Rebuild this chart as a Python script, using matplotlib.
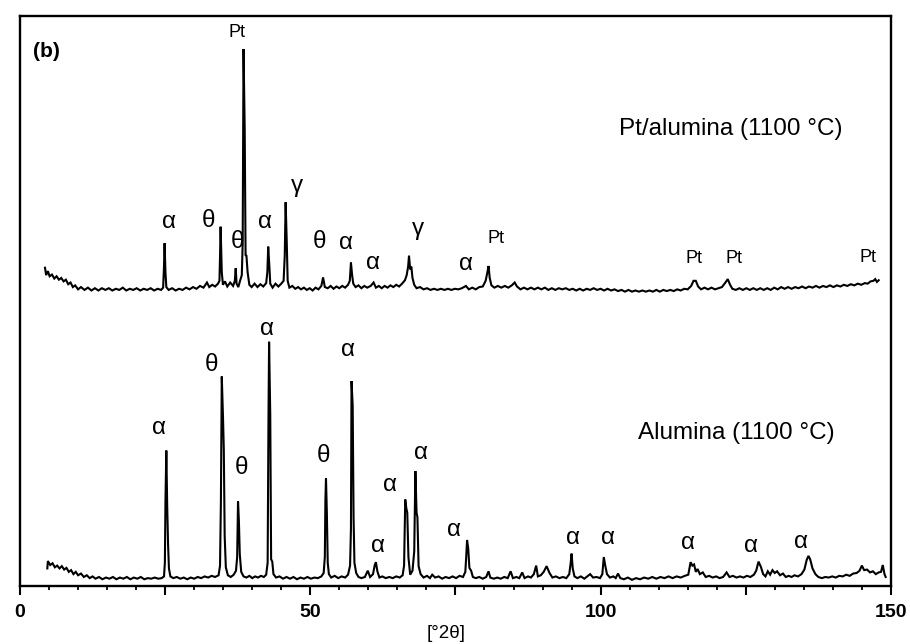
import numpy as np
import matplotlib.pyplot as plt
import matplotlib as mpl
from matplotlib.ticker import MultipleLocator, FuncFormatter

mpl.rcParams.update({
    "font.family": ["Liberation Sans", "DejaVu Sans"],
    "figure.facecolor": "white",
})

# Diffractogram traces, (2theta, intensity in arbitrary units; 0-100 = frame height)
alumina_pts = [
    (4.7, 3.0), (4.8, 4.3), (5.2, 3.6), (5.6, 3.9), (6.0, 3.2), (6.4, 3.5), (6.8, 3.0),
    (7.2, 3.4), (7.6, 2.8), (8.0, 3.1), (8.4, 2.4), (8.8, 2.7), (9.2, 2.0), (9.6, 2.4),
    (10.0, 1.8), (10.5, 2.1), (11.0, 1.5), (11.5, 1.8), (12.0, 1.3), (12.5, 1.6), (13.0, 1.2),
    (13.6, 1.5), (14.2, 1.1), (14.8, 1.4), (15.4, 1.2), (16.0, 1.5), (16.6, 1.1), (17.2, 1.4),
    (17.8, 1.2), (18.4, 1.5), (19.0, 1.1), (19.6, 1.4), (20.2, 1.2), (20.8, 1.5), (21.4, 1.1),
    (22.0, 1.3), (22.6, 1.2), (23.2, 1.4), (23.8, 1.2), (24.4, 1.3), (24.8, 1.6),
    (24.95, 4.0), (25.05, 14.8), (25.2, 23.7), (25.35, 14.0), (25.5, 7.2), (25.65, 3.0), (25.9, 1.6),
    (26.4, 1.3), (27.0, 1.5), (27.6, 1.2), (28.2, 1.4), (28.8, 1.1), (29.4, 1.4), (30.0, 1.2),
    (30.6, 1.5), (31.2, 1.3), (31.8, 1.6), (32.4, 1.4), (33.0, 1.7), (33.6, 1.5), (34.2, 1.8),
    (34.45, 3.5), (34.6, 14.8), (34.75, 36.7), (34.95, 30.0), (35.1, 23.9), (35.25, 8.7),
    (35.45, 3.2), (35.8, 1.8), (36.3, 1.5), (36.8, 1.9), (37.2, 2.6),
    (37.4, 5.0), (37.55, 14.8), (37.7, 11.3), (37.85, 5.5), (38.1, 2.4), (38.5, 1.6), (39.0, 1.4),
    (39.5, 1.7), (40.0, 1.3), (40.5, 1.6), (41.0, 1.4), (41.5, 1.7), (42.0, 1.5), (42.4, 1.9),
    (42.65, 4.0), (42.8, 30.0), (42.9, 42.8), (43.1, 30.0), (43.25, 4.6), (43.45, 4.2), (43.65, 2.0),
    (44.1, 1.4), (44.7, 1.6), (45.3, 1.2), (45.9, 1.5), (46.5, 1.2), (47.1, 1.5), (47.7, 1.1),
    (48.3, 1.4), (48.9, 1.2), (49.5, 1.5), (50.1, 1.2), (50.7, 1.4), (51.3, 1.3), (51.9, 1.6),
    (52.3, 2.2), (52.5, 5.0), (52.6, 15.0), (52.7, 18.8), (52.85, 12.8), (53.0, 4.0), (53.2, 2.0),
    (53.6, 1.4), (54.2, 1.7), (54.8, 1.3), (55.4, 1.6), (56.0, 1.4), (56.5, 1.9),
    (56.85, 3.5), (57.0, 10.0), (57.1, 35.9), (57.3, 31.5), (57.45, 12.0), (57.6, 4.0), (57.9, 2.2),
    (58.3, 1.5), (58.8, 1.3), (59.4, 1.5), (59.9, 2.6), (60.3, 1.5), (60.8, 2.0), (61.1, 3.6),
    (61.3, 4.1), (61.55, 2.5), (61.9, 1.4), (62.4, 1.6), (63.0, 1.3), (63.6, 1.5), (64.2, 1.3),
    (64.8, 1.6), (65.4, 1.4), (65.9, 1.8),
    (66.15, 3.5), (66.35, 15.1), (66.55, 13.5), (66.7, 12.8), (66.9, 5.0), (67.2, 1.9), (67.6, 2.6),
    (67.9, 6.0), (68.1, 20.1), (68.3, 12.8), (68.45, 12.0), (68.65, 3.4), (69.0, 2.0), (69.5, 1.4),
    (70.1, 1.7), (70.6, 1.3), (71.0, 1.9), (71.5, 1.4), (72.1, 1.6), (72.7, 1.2), (73.3, 1.5),
    (73.9, 1.3), (74.5, 1.6), (75.1, 1.3), (75.7, 1.7), (76.3, 1.5), (76.7, 2.4),
    (76.85, 5.0), (77.0, 8.0), (77.2, 6.5), (77.4, 3.1), (77.7, 2.6), (78.0, 1.5), (78.5, 1.3),
    (79.1, 1.5), (79.7, 1.2), (80.3, 1.5), (80.7, 2.5), (81.0, 1.4), (81.6, 1.2), (82.2, 1.4),
    (82.8, 1.2), (83.4, 1.5), (84.0, 1.3), (84.5, 2.5), (84.9, 1.3), (85.5, 1.5), (86.0, 1.3),
    (86.5, 2.3), (86.9, 1.3), (87.5, 1.6), (88.0, 1.4), (88.5, 2.0), (88.9, 3.5), (89.2, 1.6),
    (89.7, 1.8), (90.2, 2.4), (90.7, 3.4), (91.2, 2.2), (91.7, 1.4), (92.3, 1.6), (92.9, 1.3),
    (93.5, 1.5), (94.1, 1.3), (94.6, 2.0), (94.85, 4.0), (95.0, 5.6), (95.2, 3.0), (95.5, 1.6),
    (96.0, 1.3), (96.6, 1.6), (97.2, 1.2), (97.7, 1.6), (98.2, 2.0), (98.7, 1.4), (99.3, 1.5),
    (99.9, 1.3), (100.3, 2.0), (100.55, 5.0), (100.8, 3.5), (101.1, 2.0), (101.6, 1.4),
    (102.2, 1.6), (102.6, 1.3), (103.0, 2.1), (103.4, 1.3), (104.0, 1.1), (104.7, 1.4),
    (105.4, 1.0), (106.1, 1.3), (106.8, 1.1), (107.5, 1.4), (108.2, 1.2), (108.9, 1.5),
    (109.6, 1.2), (110.3, 1.5), (111.0, 1.3), (111.7, 1.6), (112.4, 1.3), (113.1, 1.6),
    (113.8, 1.4), (114.5, 1.7), (115.1, 1.9), (115.5, 4.1), (115.8, 3.5), (116.1, 3.7),
    (116.4, 2.4), (116.7, 2.9), (117.1, 2.0), (117.6, 2.3), (118.1, 1.5), (118.7, 1.7),
    (119.3, 1.4), (119.9, 1.6), (120.5, 1.3), (121.1, 1.5), (121.7, 2.3), (122.2, 1.5),
    (122.8, 1.7), (123.4, 1.4), (124.0, 1.6), (124.6, 1.4), (125.2, 1.7), (125.8, 1.5),
    (126.4, 1.9), (126.8, 2.6), (127.2, 4.2), (127.6, 3.3), (128.0, 2.0), (128.4, 1.6),
    (128.8, 2.5), (129.2, 1.9), (129.6, 2.7), (130.0, 2.2), (130.4, 2.5), (130.9, 1.8),
    (131.4, 2.1), (131.9, 1.5), (132.4, 1.7), (132.9, 1.5), (133.4, 1.8), (134.0, 1.6),
    (134.6, 2.0), (135.1, 2.8), (135.5, 4.5), (135.8, 5.2), (136.1, 4.6), (136.5, 3.0),
    (137.0, 2.0), (137.5, 1.5), (138.1, 1.3), (138.7, 1.5), (139.3, 1.4), (139.9, 1.6),
    (140.5, 1.4), (141.1, 1.7), (141.7, 1.6), (142.3, 1.9), (142.9, 1.7), (143.5, 2.1),
    (144.1, 2.2), (144.6, 2.6), (145.0, 3.5), (145.4, 2.7), (145.9, 2.8), (146.4, 2.3),
    (146.9, 2.5), (147.4, 2.0), (147.9, 2.3), (148.3, 2.4), (148.6, 3.6), (148.9, 2.0),
    (149.1, 1.5),
]

pt_alumina_pts = [
    (4.3, 55.8), (4.5, 54.5), (4.8, 55.2), (5.1, 54.3), (5.5, 54.6), (5.9, 53.9), (6.3, 54.3),
    (6.7, 53.7), (7.1, 54.0), (7.5, 53.4), (7.9, 53.7), (8.3, 52.9), (8.7, 53.2), (9.1, 52.4),
    (9.5, 52.7), (10.0, 52.0), (10.5, 52.4), (11.1, 51.9), (11.7, 52.3), (12.3, 51.8),
    (12.9, 52.2), (13.5, 51.8), (14.1, 52.2), (14.7, 51.9), (15.3, 52.2), (15.9, 51.8),
    (16.5, 52.1), (17.1, 51.9), (17.7, 52.3), (18.3, 51.8), (18.9, 52.1), (19.5, 51.9),
    (20.1, 52.2), (20.7, 51.8), (21.3, 52.1), (21.9, 51.9), (22.5, 52.2), (23.1, 51.8),
    (23.7, 52.1), (24.3, 51.9), (24.65, 52.3),
    (24.8, 56.0), (24.9, 60.1), (25.05, 55.0), (25.2, 52.4), (25.6, 51.9), (26.2, 52.2),
    (26.8, 51.8), (27.4, 52.1), (28.0, 51.9), (28.6, 52.3), (29.2, 52.0), (29.8, 52.4),
    (30.4, 52.1), (31.0, 52.6), (31.6, 52.3), (32.2, 53.2), (32.6, 52.4), (33.1, 52.8),
    (33.6, 52.5), (34.1, 53.0),
    (34.35, 53.5), (34.45, 57.8), (34.55, 63.0), (34.75, 55.0), (34.95, 52.8), (35.3, 53.4),
    (35.7, 52.5), (36.2, 53.2), (36.7, 52.6), (37.0, 53.5), (37.15, 55.7), (37.3, 53.0),
    (37.6, 52.4), (37.9, 53.5), (38.2, 54.5),
    (38.35, 60.0), (38.5, 94.2), (38.7, 80.0), (38.85, 58.0), (39.0, 57.9), (39.2, 55.0),
    (39.5, 52.8), (39.9, 52.4), (40.4, 53.0), (40.9, 52.4), (41.4, 52.9), (41.9, 52.5),
    (42.4, 53.1),
    (42.6, 55.0), (42.75, 59.5), (42.95, 56.0), (43.1, 53.0), (43.5, 52.3), (44.0, 53.0),
    (44.5, 52.5), (45.0, 53.0), (45.4, 53.5),
    (45.6, 58.0), (45.75, 67.3), (45.95, 60.0), (46.1, 53.5), (46.4, 52.3), (46.9, 52.6),
    (47.4, 52.1), (47.9, 52.4), (48.4, 52.0), (48.9, 52.3), (49.4, 51.9), (49.9, 52.2),
    (50.4, 51.8), (50.9, 52.3), (51.4, 52.0), (51.9, 52.6), (52.2, 54.1), (52.5, 52.4),
    (53.0, 52.2), (53.5, 52.6), (54.0, 52.1), (54.5, 52.5), (55.0, 52.2), (55.5, 52.6),
    (56.0, 52.3), (56.5, 52.8), (56.8, 53.5), (57.0, 56.7), (57.2, 54.5), (57.4, 53.0),
    (57.8, 52.4), (58.3, 52.7), (58.8, 52.2), (59.3, 52.6), (59.8, 52.3), (60.4, 52.6),
    (60.9, 53.2), (61.3, 52.3), (61.8, 52.6), (62.3, 52.2), (62.8, 52.6), (63.3, 52.3),
    (63.8, 52.7), (64.3, 52.4), (64.8, 52.8), (65.3, 52.5), (65.8, 53.0), (66.3, 53.6),
    (66.6, 54.5), (66.85, 56.0), (67.0, 57.9), (67.2, 55.5), (67.4, 56.0), (67.6, 54.0),
    (67.9, 52.8), (68.3, 52.2), (68.9, 52.4), (69.5, 52.0), (70.1, 52.2), (70.7, 51.9),
    (71.3, 52.1), (71.9, 51.9), (72.5, 52.1), (73.1, 51.9), (73.7, 52.1), (74.3, 51.9),
    (74.9, 52.1), (75.5, 52.0), (76.1, 52.2), (76.8, 52.6), (77.3, 52.0), (77.9, 52.3),
    (78.5, 52.0), (79.1, 52.4), (79.7, 52.5), (80.2, 53.5), (80.5, 55.0), (80.7, 56.1),
    (80.9, 54.0), (81.2, 52.7), (81.7, 52.3), (82.3, 52.6), (82.9, 52.3), (83.5, 52.6),
    (84.1, 52.3), (84.7, 52.7), (85.2, 53.2), (85.6, 52.5), (86.2, 52.0), (86.8, 52.3),
    (87.4, 52.0), (88.0, 52.3), (88.6, 52.0), (89.2, 52.3), (89.8, 52.0), (90.4, 52.3),
    (91.0, 51.9), (91.6, 52.2), (92.2, 51.9), (92.8, 52.2), (93.4, 52.0), (94.0, 52.2),
    (94.6, 51.9), (95.2, 52.1), (95.8, 51.8), (96.4, 52.1), (97.0, 51.8), (97.6, 52.1),
    (98.2, 51.9), (98.8, 52.2), (99.4, 51.9), (100.0, 52.1), (100.6, 51.8), (101.2, 52.1),
    (101.8, 51.8), (102.4, 52.0), (103.0, 51.7), (103.6, 51.9), (104.2, 51.6), (104.8, 51.9),
    (105.4, 51.6), (106.0, 51.8), (106.6, 51.6), (107.2, 51.8), (107.8, 51.6), (108.4, 51.8),
    (109.0, 51.6), (109.6, 51.9), (110.2, 51.6), (110.8, 51.9), (111.4, 51.7), (112.0, 51.9),
    (112.6, 51.7), (113.2, 52.0), (113.8, 51.8), (114.4, 52.1), (115.0, 52.0), (115.6, 52.6),
    (116.0, 53.5), (116.4, 53.5), (116.8, 52.5), (117.3, 52.0), (117.9, 52.3), (118.5, 52.0),
    (119.1, 52.3), (119.7, 52.0), (120.3, 52.2), (120.9, 52.4), (121.5, 53.2), (121.9, 53.8),
    (122.3, 52.8), (122.7, 52.1), (123.3, 51.9), (123.9, 52.2), (124.5, 51.9), (125.1, 52.2),
    (125.7, 51.9), (126.3, 52.2), (126.9, 51.9), (127.5, 52.2), (128.1, 51.9), (128.7, 52.2),
    (129.3, 51.9), (129.9, 52.3), (130.5, 52.0), (131.1, 52.4), (131.7, 52.1), (132.3, 52.4),
    (132.9, 52.1), (133.5, 52.4), (134.1, 52.2), (134.7, 52.5), (135.3, 52.2), (135.9, 52.5),
    (136.5, 52.3), (137.1, 52.6), (137.7, 52.3), (138.3, 52.6), (138.9, 52.4), (139.5, 52.7),
    (140.1, 52.4), (140.7, 52.7), (141.3, 52.5), (141.9, 52.8), (142.5, 52.6), (143.1, 52.9),
    (143.7, 52.7), (144.3, 53.0), (144.9, 52.8), (145.5, 53.1), (146.0, 53.0), (146.5, 53.4),
    (147.0, 53.5), (147.3, 53.8), (147.6, 53.3), (147.9, 53.6),
]

# Phase assignments: (2theta, height, label)
pt_alumina_labels = [
    (25.7, 63.8, "α"), (32.5, 64.0, "θ"), (37.4, 60.3, "θ"), (42.2, 63.9, "α"),
    (47.7, 70.2, "γ"), (51.5, 60.3, "θ"), (56.2, 60.2, "α"), (60.8, 56.7, "α"),
    (68.5, 62.6, "γ"), (76.9, 56.5, "α"),
]
pt_labels = [(37.4, 97.1), (81.9, 60.9), (116.1, 57.4), (123.0, 57.4), (146.1, 57.6)]

alumina_labels = [
    (23.9, 27.7, "α"), (33.0, 38.8, "θ"), (38.1, 20.7, "θ"), (42.5, 45.0, "α"),
    (52.2, 22.7, "θ"), (56.5, 41.4, "α"), (61.6, 6.9, "α"), (63.8, 17.6, "α"),
    (69.0, 23.3, "α"), (74.8, 9.8, "α"), (95.3, 8.4, "α"), (101.3, 8.4, "α"),
    (115.0, 7.5, "α"), (125.9, 6.9, "α"), (134.5, 7.6, "α"),
]

sample_names = ["Pt/alumina (1100 °C)", "Alumina (1100 °C)"]
sample_pos = [(122.4, 80.1), (123.3, 26.7)]

fig = plt.figure(figsize=(9.1, 6.44), dpi=100)
ax = fig.add_axes([0.022, 0.0908, 0.957, 0.8844])

for pts in (pt_alumina_pts, alumina_pts):
    x, y = np.array(pts).T
    ax.plot(x, y, color="black", lw=1.5, solid_joinstyle="miter")

for x, y, s in pt_alumina_labels + alumina_labels:
    ax.text(x, y, s, ha="center", va="center", fontsize=17.5)
for x, y in pt_labels:
    ax.text(x, y, "Pt", ha="center", va="center", fontsize=13)
for (x, y), s in zip(sample_pos, sample_names):
    ax.text(x, y, s, ha="center", va="center", fontsize=17.5)
ax.text(4.6, 93.7, "(b)", ha="center", va="center", fontsize=15, weight="bold")

ax.set_xlim(0, 150)
ax.set_ylim(0, 100)
for sp in ax.spines.values():
    sp.set_linewidth(1.7)

ax.xaxis.set_major_locator(MultipleLocator(25))
ax.xaxis.set_minor_locator(MultipleLocator(5))
ax.xaxis.set_major_formatter(FuncFormatter(lambda v, _: f"{v:.0f}" if v % 50 == 0 else ""))
ax.tick_params(axis="x", which="major", direction="out", length=6.5, width=1.5,
               pad=6.5, labelsize=14)
ax.tick_params(axis="x", which="minor", direction="out", length=2.8, width=1.3)
for lab in ax.get_xticklabels():
    lab.set_fontweight("bold")
ax.set_yticks([])

fig.text(446 / 910, 1 - 633 / 644, "[°2θ]", ha="center", va="center", fontsize=13.5)

fig.savefig("out.png", dpi=100, facecolor="white")
